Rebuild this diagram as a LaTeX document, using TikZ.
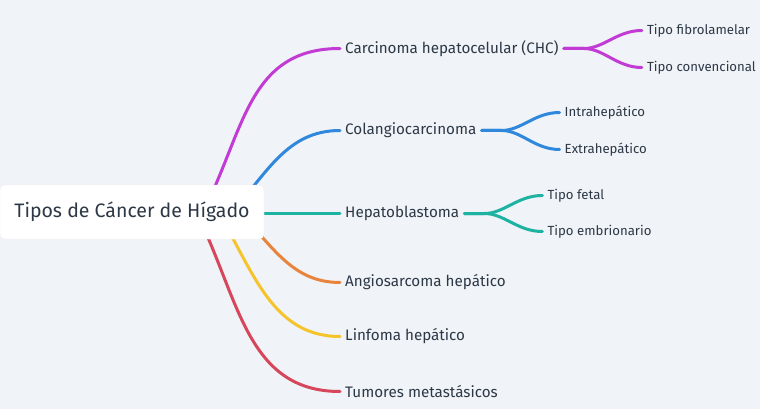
\documentclass[tikz,border=0pt]{standalone}
\usepackage{fontspec}
\setmainfont{Fira Sans}
\usetikzlibrary{positioning,calc}
\pgfdeclarelayer{fondo}
\pgfdeclarelayer{bg}
\pgfsetlayers{fondo,bg,main}
\definecolor{fondo}{HTML}{F0F3F7}
\definecolor{texto}{HTML}{2D3846}
\definecolor{morado}{HTML}{C23BD4}
\definecolor{azul}{HTML}{2F88DC}
\definecolor{verdeazul}{HTML}{1EB3A1}
\definecolor{naranja}{HTML}{E8843B}
\definecolor{amarillo}{HTML}{F5C42C}
\definecolor{rojo}{HTML}{D7475B}
\tikzset{
	linea/.style = {line width = 3pt, line cap = round}
}

\begin{document}
\begin{tikzpicture}[
x = 1pt, y = -1pt,
every node/.style = {
	text = texto
},
raiz/.style = {
	fill = white,
	draw = black!5,
	rounded corners = 5pt,
	minimum width = 264pt,
	minimum height = 54pt,
	font = \fontsize{19.5}{22}\selectfont
},
rama/.style = {
	anchor = west,
	inner xsep = 5pt,
	font = \fontsize{15.2}{17}\selectfont
},
hoja/.style = {
	inner xsep = 5pt,
	font = \fontsize{13.2}{15}\selectfont
}
]
\begin{pgfonlayer}{fondo}
\fill[fondo] (0,0) rectangle (760,409);
\end{pgfonlayer}
\useasboundingbox (0,0) rectangle (760,409);

\node (tipos) [raiz] at (132,212) {Tipos de Cáncer de Hígado};

\node (chc) [rama] at (340,48.5) {Carcinoma hepatocelular (CHC)};
\node (colangio) [rama] at (340,130.5) {Colangiocarcinoma};
\node (hepato) [rama] at (340,213.5) {Hepatoblastoma};
\node (angio) [rama] at (340,282.5) {Angiosarcoma hepático};
\node (linfoma) [rama] at (340,336.5) {Linfoma hepático};
\node (tumores) [rama] at (340,391.5) {Tumores metastásicos};

\node (fibro) [hoja, right = 78pt of chc.east, yshift = 18pt] {Tipo fibrolamelar};
\node (conv) [hoja, right = 78pt of chc.east, yshift = -19pt] {Tipo convencional};
\node (intra) [hoja, right = 78pt of colangio.east, yshift = 18pt] {Intrahepático};
\node (extra) [hoja, right = 78pt of colangio.east, yshift = -19pt] {Extrahepático};
\node (fetal) [hoja, right = 78pt of hepato.east, yshift = 18pt] {Tipo fetal};
\node (embrion) [hoja, right = 78pt of hepato.east, yshift = -18pt] {Tipo embrionario};

\begin{pgfonlayer}{bg}
% ramas principales
\draw[linea, morado] (tipos.center) -- ++(71,0) to[out=63, in=180, looseness=1.1] (chc.west);
\draw[linea, azul] (tipos.center) -- ++(100,0) to[out=48, in=180] (colangio.west);
\draw[linea, verdeazul] (hepato.west -| tipos.center) -- (hepato.west);
\draw[linea, naranja] (tipos.center) -- ++(107,0) to[out=-45, in=180] (angio.west);
\draw[linea, amarillo] (tipos.center) -- ++(86,0) to[out=-59, in=180] (linfoma.west);
\draw[linea, rojo] (tipos.center) -- ++(64,0) to[out=-63, in=180, looseness=1.05] (tumores.west);
% subramas
\draw[linea, morado] (chc.east) -- ++(20,0) .. controls +(20,0) and +(-25,0) .. (fibro.west);
\draw[linea, morado] (chc.east) -- ++(20,0) .. controls +(20,0) and +(-25,0) .. (conv.west);
\draw[linea, azul] (colangio.east) -- ++(20,0) .. controls +(20,0) and +(-25,0) .. (intra.west);
\draw[linea, azul] (colangio.east) -- ++(20,0) .. controls +(20,0) and +(-25,0) .. (extra.west);
\draw[linea, verdeazul] (hepato.east) -- ++(20,0) .. controls +(20,0) and +(-25,0) .. (fetal.west);
\draw[linea, verdeazul] (hepato.east) -- ++(20,0) .. controls +(20,0) and +(-25,0) .. (embrion.west);
\end{pgfonlayer}
\end{tikzpicture}
\end{document}
